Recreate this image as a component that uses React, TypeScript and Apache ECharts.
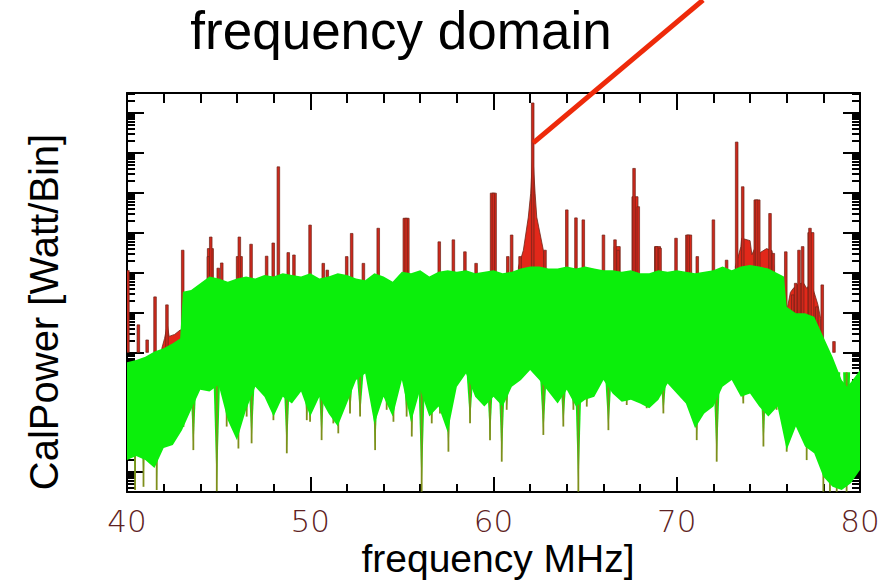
import React, { useEffect, useRef } from "react";
import * as echarts from "echarts";

// ---------------- data (x: MHz, y: 10*log10 CalPower, relative dB) ----------------
const xTickLabels = [40, 50, 60, 70, 80];
const yMajorTicks = [0, 10, 20, 30, 40, 50, 60, 70, 80, 90];
const yMinorFactors = [2, 3, 4, 5, 6, 7, 8, 9];

// upper edge of the green (noise) band
const greenUpper: [number, number][] = [
  [40.0, 27.5], [40.5, 28.1], [41.0, 28.9], [41.5, 30.2], [42.0, 31.0], [42.5, 32.3],
  [42.9, 33.5], [43.05, 45.2], [43.5, 45.6], [44.0, 47.3], [44.5, 49.0], [45.0, 48.5],
  [45.5, 47.7], [46.0, 48.5], [46.5, 49.0], [47.0, 48.5], [47.5, 49.4], [48.0, 49.0],
  [48.5, 49.8], [49.0, 49.4], [49.5, 49.0], [50.0, 49.8], [50.5, 48.5], [51.0, 49.0],
  [51.5, 49.8], [52.0, 49.4], [52.5, 48.5], [53.0, 48.1], [53.5, 49.8], [54.0, 49.0],
  [54.5, 47.7], [55.0, 50.2], [55.5, 49.8], [56.0, 50.6], [56.5, 49.0], [57.0, 50.2],
  [57.5, 50.6], [58.0, 50.2], [58.5, 50.6], [59.0, 49.8], [59.5, 50.2], [60.0, 50.6],
  [60.5, 49.8], [61.0, 50.2], [61.5, 51.0], [62.0, 51.5], [62.5, 51.5], [63.0, 51.0],
  [63.5, 51.0], [64.0, 51.5], [64.5, 51.0], [65.0, 51.5], [65.5, 51.0], [66.0, 50.6],
  [66.5, 50.6], [67.0, 50.2], [67.5, 50.6], [68.0, 49.8], [68.5, 49.8], [69.0, 50.6],
  [69.5, 50.2], [70.0, 50.6], [70.5, 50.2], [71.0, 49.8], [71.5, 50.2], [72.0, 50.6],
  [72.5, 51.5], [73.0, 50.6], [73.5, 51.5], [74.0, 51.9], [74.5, 51.5], [75.0, 51.0],
  [75.5, 49.8], [75.85, 49.0], [76.0, 41.4], [76.5, 39.8], [77.0, 39.8], [77.5, 38.9],
  [78.0, 33.9], [78.5, 28.9], [79.0, 23.1], [79.3, 21.4], [79.6, 23.1], [80.0, 25.6],
];

// lower edge of the green band
const lowFreqs = [
  40.0, 40.5, 41.0, 41.5, 42.0, 42.5, 43.0, 43.5, 44.0, 44.5, 45.0, 45.5, 46.0, 46.5,
  47.0, 47.5, 48.0, 48.5, 49.0, 49.5, 50.0, 50.5, 51.0, 51.5, 52.0, 52.5, 53.0, 53.5,
  54.0, 54.5, 55.0, 55.5, 56.0, 56.5, 57.0, 57.5, 58.0, 58.5, 59.0, 59.5, 60.0, 60.5,
  61.0, 61.5, 62.0, 62.5, 63.0, 63.5, 64.0, 64.5, 65.0, 65.5, 66.0, 66.5, 67.0, 67.5,
  68.0, 68.5, 69.0, 69.5, 70.0, 70.5, 71.0, 71.5, 72.0, 72.5, 73.0, 73.5, 74.0, 74.5,
  75.0, 75.5, 76.0, 76.5, 77.0, 77.5, 78.0, 78.5, 79.0, 79.5, 80.0,
];
const lowValues = [
  3.0, 4.0, 3.0, 1.0, 6.0, 6.8, 10.5, 15.6, 20.6, 20.2, 21.8, 13.0, 8.0, 15.6,
  21.4, 18.9, 13.9, 18.9, 17.2, 20.2, 13.9, 18.9, 14.7, 11.5, 17.2, 23.1, 24.7, 12.0,
  18.9, 13.9, 23.1, 12.5, 20.6, 13.9, 16.4, 10.0, 21.4, 24.7, 18.9, 16.4, 18.9, 16.4,
  21.4, 23.1, 25.6, 23.1, 20.1, 17.2, 20.6, 16.4, 18.1, 18.9, 23.1, 19.7, 17.6, 18.1,
  17.2, 16.0, 18.1, 22.2, 19.7, 17.2, 11.0, 14.7, 16.4, 21.4, 23.1, 18.9, 19.7, 16.4,
  13.9, 16.4, 5.5, 11.4, 6.4, 4.7, -1.2, -3.7, -4.5, -2.8, 0.5,
];

// downward dips below the green band [MHz, bottom]
const dips: [number, number][] = [
  [40.44, -4.5], [40.9, -3.7], [41.62, -4.5], [43.08, 11.3], [43.62, 5.5], [44.9, -4.8],
  [45.44, 11.4], [45.62, 16.4], [46.08, 5.9], [46.53, 13.9], [46.8, 7.2], [47.99, 13.0],
  [48.72, 4.7], [49.81, 13.0], [49.99, 12.6], [50.62, 8.0], [51.26, 12.2], [51.53, 9.7],
  [52.17, 14.7], [52.72, 13.9], [53.54, 5.5], [54.17, 15.6], [54.54, 12.6], [55.26, 13.9],
  [55.54, 8.9], [56.08, -4.9], [56.63, 12.2], [57.08, 14.7], [57.54, 5.1], [58.72, 12.2],
  [59.45, 17.2], [59.81, 8.0], [60.45, 2.6], [60.72, 15.6], [62.72, 9.3], [63.81, 11.4],
  [64.36, 15.6], [64.63, -4.9], [65.09, 16.4], [66.27, 10.5], [67.27, 16.8], [68.36, 16.0],
  [69.27, 14.7], [70.72, 15.6], [71.09, 8.0], [71.45, 14.7], [72.18, 2.6], [73.63, 17.2],
  [74.36, 18.1], [74.73, 6.4], [75.09, 18.9], [75.45, 15.6], [76.0, 5.1], [76.73, 13.9],
  [77.09, 3.0], [77.45, 6.4], [78.0, -4.9], [78.36, -4.9], [78.73, -4.9], [79.27, -4.9],
];

// red spectrum: narrow lines [MHz, top]
const redSpikes: [number, number][] = [
  [40.05, 50.5], [40.62, 36.9], [41.1, 33.1], [41.53, 43.9], [42.18, 41.9], [43.04, 55.6],
  [44.44, 54.0], [44.57, 58.9], [44.98, 51.1], [45.17, 52.4], [46.13, 58.9], [46.77, 57.1],
  [47.62, 54.1], [47.98, 57.4], [48.26, 76.5], [48.8, 55.0], [49.11, 54.4], [49.99, 61.9],
  [50.71, 52.3], [50.93, 50.6], [51.99, 54.0], [52.26, 59.8], [52.9, 52.3], [53.71, 61.1],
  [55.23, 63.6], [57.04, 57.7], [57.81, 58.2], [58.44, 55.2], [59.05, 52.3], [59.99, 69.9],
  [60.78, 54.0], [60.99, 59.4], [61.45, 54.0], [62.14, 92.5], [62.81, 55.6], [64.0, 65.7],
  [64.5, 63.7], [64.9, 63.2], [66.0, 59.4], [66.63, 58.2], [66.8, 55.6], [67.67, 76.1],
  [67.9, 66.5], [68.9, 56.5], [69.09, 56.1], [69.96, 58.6], [70.63, 59.4], [71.12, 54.0],
  [72.0, 63.2], [72.72, 53.1], [73.27, 82.7], [73.6, 71.5], [74.36, 68.2], [75.09, 64.8],
  [75.27, 54.8], [75.95, 55.2], [76.33, 44.4], [76.49, 47.3], [76.67, 55.6], [76.87, 56.5],
  [77.27, 61.1], [77.64, 41.4], [77.94, 46.9], [78.58, 32.7],
];

// red spectrum: broad lines [MHz, top]
const redWideSpikes: [number, number][] = [
  [44.55, 56.0], [46.13, 54.0], [55.23, 63.6], [59.99, 69.9], [66.75, 56.5], [67.72, 69.0],
  [68.95, 56.5], [70.65, 59.4], [74.38, 68.2], [77.32, 60.0],
];

// red spectrum: broad humps above the green band [MHz, level]
const redPeakHump: [number, number][] = [
  [61.36, 51.4], [61.63, 55.6], [61.9, 63.9], [62.03, 69.9], [62.14, 80.0], [62.27, 69.9],
  [62.36, 63.9], [62.72, 55.6], [62.81, 51.4],
];
const redLowHump: [number, number][] = [
  [41.9, 31.0], [42.05, 33.5], [42.2, 37.0], [42.3, 34.0], [42.6, 34.5], [42.9, 35.6], [43.0, 35.6],
];
const redClusterHump: [number, number][] = [
  [73.2, 51.5], [73.5, 56.5], [73.54, 58.6], [74.0, 58.0], [74.1, 54.5], [74.25, 56.0],
  [74.55, 55.0], [74.9, 56.0], [75.2, 55.5], [75.3, 51.5],
];
const redRightHump: [number, number][] = [
  [76.05, 41.4], [76.2, 45.0], [76.35, 46.0], [76.6, 47.0], [76.9, 47.5], [77.1, 46.0],
  [77.3, 47.5], [77.5, 45.0], [77.7, 42.0], [77.85, 38.5],
];
const redHumps = [redPeakHump, redLowHump, redClusterHump, redRightHump];

// annotation pointer target (the 62 MHz line)
const peakPointer: [number, number] = [62.17, 82.5];

// ---------------- styling constants ----------------
const GREEN = "#0bef0b";
const OLIVE = "#7f8f1c";
const RED = "#e2281a";
const RED_DARK = "#6e2418";
const RED_BASE = 30;
const DIP_TOP = 25;
const LABEL_COLOR = "#5e2222";
const Y_MIN = -5;
const Y_MAX = 95;

const yMinorTicks: number[] = [];
for (let d = -10; d <= 90; d += 10) {
  for (const k of yMinorFactors) {
    const v = d + 10 * Math.log10(k);
    if (v > Y_MIN && v < Y_MAX) yMinorTicks.push(v);
  }
}

function buildOption(): echarts.EChartsOption {
  const axisLineStyle = { color: "#000", width: 2 };
  const yAxisBase = (position: "left" | "right", major: boolean) => ({
    type: "value" as const,
    position,
    min: Y_MIN,
    max: Y_MAX,
    axisLine: { show: major, onZero: false, lineStyle: axisLineStyle },
    axisTick: {
      show: true,
      inside: true,
      length: major ? 17 : 8,
      customValues: major ? yMajorTicks : yMinorTicks,
      lineStyle: { color: "#000", width: 2 },
    },
    axisLabel: { show: false },
    splitLine: { show: false },
  });

  return {
    animation: false,
    backgroundColor: "#ffffff",
    grid: { left: 127, right: 35, top: 93, bottom: 93, containLabel: false },
    graphic: [
      {
        type: "text",
        x: 401,
        y: 30,
        style: {
          text: "frequency domain",
          font: "53px 'Liberation Sans', Arial, sans-serif",
          fill: "#000",
          textAlign: "center",
          textVerticalAlign: "middle",
        },
      },
      {
        type: "text",
        x: 44,
        y: 312,
        rotation: Math.PI / 2,
        style: {
          text: "CalPower [Watt/Bin]",
          font: "40px 'Liberation Sans', Arial, sans-serif",
          fill: "#000",
          textAlign: "center",
          textVerticalAlign: "middle",
        },
      },
      {
        type: "text",
        x: 498,
        y: 558,
        style: {
          text: "frequency MHz]",
          font: "39px 'Liberation Sans', Arial, sans-serif",
          fill: "#000",
          textAlign: "center",
          textVerticalAlign: "middle",
        },
      },
    ],
    xAxis: [
      {
        type: "value",
        position: "bottom",
        min: xTickLabels[0],
        max: xTickLabels[xTickLabels.length - 1],
        interval: 10,
        axisLine: { show: true, onZero: false, lineStyle: axisLineStyle },
        axisTick: { show: true, inside: true, length: 15, lineStyle: { color: "#000", width: 2 } },
        minorTick: { show: true, splitNumber: 5, length: 8, lineStyle: { color: "#000", width: 2 } },
        axisLabel: {
          show: true,
          color: LABEL_COLOR,
          fontSize: 31,
          fontFamily: "DejaVu Sans",
          fontWeight: 200,
          margin: 13,
          customValues: xTickLabels,
        },
        splitLine: { show: false },
      },
      {
        type: "value",
        position: "top",
        min: xTickLabels[0],
        max: xTickLabels[xTickLabels.length - 1],
        interval: 10,
        axisLine: { show: true, onZero: false, lineStyle: axisLineStyle },
        axisTick: { show: true, inside: true, length: 17, lineStyle: { color: "#000", width: 2 } },
        minorTick: { show: true, splitNumber: 5, length: 10, lineStyle: { color: "#000", width: 2 } },
        axisLabel: { show: false },
        splitLine: { show: false },
      },
    ],
    yAxis: [
      yAxisBase("left", true),
      yAxisBase("left", false),
      yAxisBase("right", true),
      yAxisBase("right", false),
    ],
    series: [
      // red humps
      {
        type: "custom",
        name: "red humps",
        z: 1,
        clip: true,
        data: redHumps.map((_, i) => [i, 0]),
        encode: { x: 0, y: 1 },
        renderItem: (params: any, api: any) => {
          const hump = redHumps[params.dataIndex];
          const pts = hump.map((p) => api.coord(p));
          pts.push(api.coord([hump[hump.length - 1][0], RED_BASE]));
          pts.push(api.coord([hump[0][0], RED_BASE]));
          return {
            type: "polygon",
            shape: { points: pts },
            style: { fill: RED, stroke: RED_DARK, lineWidth: 0.8 },
          };
        },
      } as any,
      // red wide lines
      {
        type: "custom",
        name: "red wide",
        z: 1,
        clip: true,
        data: redWideSpikes,
        renderItem: (params: any, api: any) => {
          const top = api.coord([api.value(0), api.value(1)]);
          const base = api.coord([api.value(0), RED_BASE]);
          return {
            type: "rect",
            shape: { x: top[0] - 3, y: top[1], width: 6, height: base[1] - top[1] },
            style: { fill: RED, stroke: RED_DARK, lineWidth: 0.8 },
          };
        },
      } as any,
      // red narrow lines
      {
        type: "custom",
        name: "red spikes",
        z: 2,
        clip: true,
        data: redSpikes,
        renderItem: (params: any, api: any) => {
          const top = api.coord([api.value(0), api.value(1)]);
          const base = api.coord([api.value(0), RED_BASE]);
          return {
            type: "rect",
            shape: { x: top[0] - 1.3, y: top[1], width: 2.6, height: base[1] - top[1] },
            style: { fill: "#cc281c", stroke: RED_DARK, lineWidth: 0.7 },
          };
        },
      } as any,
      // downward dips
      {
        type: "custom",
        name: "dips",
        z: 3,
        clip: true,
        data: dips,
        renderItem: (params: any, api: any) => {
          const bottom = api.coord([api.value(0), api.value(1)]);
          const top = api.coord([api.value(0), DIP_TOP]);
          return {
            type: "group",
            children: [
              {
                type: "polygon",
                shape: { points: [[top[0] - 3.5, top[1]], [top[0] + 3.5, top[1]], [bottom[0], bottom[1]]] },
                style: { fill: GREEN },
              },
              {
                type: "line",
                shape: { x1: top[0], y1: top[1], x2: bottom[0], y2: bottom[1] },
                style: { stroke: OLIVE, lineWidth: 1.8 },
              },
            ],
          };
        },
      } as any,
      // green noise band
      {
        type: "custom",
        name: "green band",
        z: 4,
        clip: true,
        data: [[lowFreqs[0], lowValues[0]]],
        renderItem: (params: any, api: any) => {
          const pts = greenUpper.map((p) => api.coord(p));
          for (let i = lowFreqs.length - 1; i >= 0; i--) pts.push(api.coord([lowFreqs[i], lowValues[i]]));
          return { type: "polygon", shape: { points: pts }, style: { fill: GREEN } };
        },
      } as any,
      // annotation pointer
      {
        type: "line",
        name: "pointer",
        z: 10,
        clip: false,
        data: [peakPointer],
        symbol: "none",
        lineStyle: { width: 0 },
        markLine: {
          silent: true,
          symbol: ["none", "none"],
          label: { show: false },
          lineStyle: { color: "#ee2a0a", width: 5, type: "solid" },
          data: [[{ coord: peakPointer }, { x: 703, y: 0 }]],
        },
      } as any,
    ],
  };
}

export default function App() {
  const ref = useRef<HTMLDivElement>(null);
  useEffect(() => {
    if (!ref.current) return;
    const chart = echarts.init(ref.current, undefined, { renderer: "svg" });
    chart.setOption(buildOption());
    return () => chart.dispose();
  }, []);
  return (
    <div
      ref={ref}
      style={{ position: "absolute", left: 0, top: 0, width: 895, height: 585, background: "#fff" }}
    />
  );
}
